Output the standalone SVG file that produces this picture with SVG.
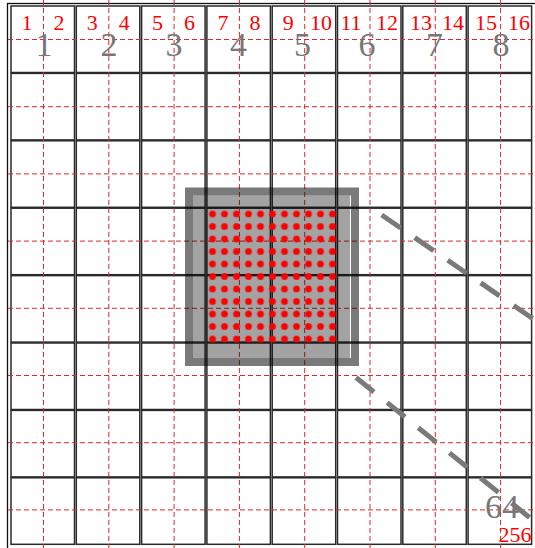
<svg xmlns="http://www.w3.org/2000/svg" width="535" height="548" viewBox="0 0 535 548">
<style>
.cell{fill:none;stroke:#2a2a2a;stroke-width:1.5}
.guide{stroke:#d42a2a;stroke-width:1;stroke-dasharray:5 3;fill:none}
.big{font-family:"Liberation Serif","Times New Roman",serif;font-size:34px;fill:#777;text-anchor:middle}
.idx{font-family:"Liberation Serif","Times New Roman",serif;font-size:22px;fill:#ff0000;text-anchor:middle}
.conn{stroke:#7a7a7a;stroke-width:5;stroke-dasharray:23 17;fill:none}
</style>
<defs>
<pattern id="dots" x="206.5" y="207.75" width="12" height="12.5" patternUnits="userSpaceOnUse">
<circle cx="6" cy="6.25" r="3.4" fill="#ff0000"/>
</pattern>
</defs>
<rect x="0" y="0" width="535" height="548" fill="#fff"/>
<rect x="7.5" y="3.5" width="540" height="560" fill="none" stroke="#111" stroke-width="1.3"/>
<g id="grid">
<g id="row1">
<rect class="cell" x="11" y="6" width="63.5" height="66.5"/><rect class="cell" x="76.3" y="6" width="63.5" height="66.5"/><rect class="cell" x="141.6" y="6" width="63.5" height="66.5"/><rect class="cell" x="206.9" y="6" width="63.5" height="66.5"/><rect class="cell" x="272.2" y="6" width="63.5" height="66.5"/><rect class="cell" x="337.5" y="6" width="63.5" height="66.5"/><rect class="cell" x="402.8" y="6" width="63.5" height="66.5"/><rect class="cell" x="468.1" y="6" width="63.5" height="66.5"/>
</g>
<g id="row2">
<rect class="cell" x="11" y="73.4" width="63.5" height="66.5"/><rect class="cell" x="76.3" y="73.4" width="63.5" height="66.5"/><rect class="cell" x="141.6" y="73.4" width="63.5" height="66.5"/><rect class="cell" x="206.9" y="73.4" width="63.5" height="66.5"/><rect class="cell" x="272.2" y="73.4" width="63.5" height="66.5"/><rect class="cell" x="337.5" y="73.4" width="63.5" height="66.5"/><rect class="cell" x="402.8" y="73.4" width="63.5" height="66.5"/><rect class="cell" x="468.1" y="73.4" width="63.5" height="66.5"/>
</g>
<g id="row3">
<rect class="cell" x="11" y="140.8" width="63.5" height="66.5"/><rect class="cell" x="76.3" y="140.8" width="63.5" height="66.5"/><rect class="cell" x="141.6" y="140.8" width="63.5" height="66.5"/><rect class="cell" x="206.9" y="140.8" width="63.5" height="66.5"/><rect class="cell" x="272.2" y="140.8" width="63.5" height="66.5"/><rect class="cell" x="337.5" y="140.8" width="63.5" height="66.5"/><rect class="cell" x="402.8" y="140.8" width="63.5" height="66.5"/><rect class="cell" x="468.1" y="140.8" width="63.5" height="66.5"/>
</g>
<g id="row4">
<rect class="cell" x="11" y="208.2" width="63.5" height="66.5"/><rect class="cell" x="76.3" y="208.2" width="63.5" height="66.5"/><rect class="cell" x="141.6" y="208.2" width="63.5" height="66.5"/><rect class="cell" x="206.9" y="208.2" width="63.5" height="66.5"/><rect class="cell" x="272.2" y="208.2" width="63.5" height="66.5"/><rect class="cell" x="337.5" y="208.2" width="63.5" height="66.5"/><rect class="cell" x="402.8" y="208.2" width="63.5" height="66.5"/><rect class="cell" x="468.1" y="208.2" width="63.5" height="66.5"/>
</g>
<g id="row5">
<rect class="cell" x="11" y="275.6" width="63.5" height="66.5"/><rect class="cell" x="76.3" y="275.6" width="63.5" height="66.5"/><rect class="cell" x="141.6" y="275.6" width="63.5" height="66.5"/><rect class="cell" x="206.9" y="275.6" width="63.5" height="66.5"/><rect class="cell" x="272.2" y="275.6" width="63.5" height="66.5"/><rect class="cell" x="337.5" y="275.6" width="63.5" height="66.5"/><rect class="cell" x="402.8" y="275.6" width="63.5" height="66.5"/><rect class="cell" x="468.1" y="275.6" width="63.5" height="66.5"/>
</g>
<g id="row6">
<rect class="cell" x="11" y="343" width="63.5" height="66.5"/><rect class="cell" x="76.3" y="343" width="63.5" height="66.5"/><rect class="cell" x="141.6" y="343" width="63.5" height="66.5"/><rect class="cell" x="206.9" y="343" width="63.5" height="66.5"/><rect class="cell" x="272.2" y="343" width="63.5" height="66.5"/><rect class="cell" x="337.5" y="343" width="63.5" height="66.5"/><rect class="cell" x="402.8" y="343" width="63.5" height="66.5"/><rect class="cell" x="468.1" y="343" width="63.5" height="66.5"/>
</g>
<g id="row7">
<rect class="cell" x="11" y="410.4" width="63.5" height="66.5"/><rect class="cell" x="76.3" y="410.4" width="63.5" height="66.5"/><rect class="cell" x="141.6" y="410.4" width="63.5" height="66.5"/><rect class="cell" x="206.9" y="410.4" width="63.5" height="66.5"/><rect class="cell" x="272.2" y="410.4" width="63.5" height="66.5"/><rect class="cell" x="337.5" y="410.4" width="63.5" height="66.5"/><rect class="cell" x="402.8" y="410.4" width="63.5" height="66.5"/><rect class="cell" x="468.1" y="410.4" width="63.5" height="66.5"/>
</g>
<g id="row8">
<rect class="cell" x="11" y="477.8" width="63.5" height="66.5"/><rect class="cell" x="76.3" y="477.8" width="63.5" height="66.5"/><rect class="cell" x="141.6" y="477.8" width="63.5" height="66.5"/><rect class="cell" x="206.9" y="477.8" width="63.5" height="66.5"/><rect class="cell" x="272.2" y="477.8" width="63.5" height="66.5"/><rect class="cell" x="337.5" y="477.8" width="63.5" height="66.5"/><rect class="cell" x="402.8" y="477.8" width="63.5" height="66.5"/><rect class="cell" x="468.1" y="477.8" width="63.5" height="66.5"/>
</g>
</g>
<g id="guides">
<path class="guide" d="M43.5 0V548M108.8 0V548M174.1 0V548M239.4 0V548M304.7 0V548M370 0V548M435.3 0V548M500.6 0V548"/>
<path class="guide" d="M8 39.5H535M8 106.7H535M8 173.9H535M8 241.1H535M8 308.3H535M8 375.5H535M8 442.7H535M8 509.9H535"/>
</g>
<g id="pool-window">
<rect x="193" y="195.5" width="157" height="162.5" fill="#000" fill-opacity="0.36"/>
<rect x="189" y="191.5" width="166" height="170.5" fill="none" stroke="#000" stroke-opacity="0.52" stroke-width="8"/>
<rect x="206.5" y="207.75" width="132" height="137.5" fill="url(#dots)"/>
</g>
<g id="connectors">
<line class="conn" x1="381.7" y1="215" x2="545" y2="327"/>
<line class="conn" x1="356" y1="377.5" x2="545" y2="530"/>
</g>
<g id="labels-cells">
<text class="big" x="44" y="56">1</text>
<text class="big" x="109" y="56">2</text>
<text class="big" x="174" y="56">3</text>
<text class="big" x="238.6" y="56">4</text>
<text class="big" x="302.5" y="56">5</text>
<text class="big" x="367" y="56">6</text>
<text class="big" x="434.5" y="56">7</text>
<text class="big" x="501" y="56">8</text>
<text class="big" x="502" y="518">64</text>
</g>
<g id="labels-index">
<text class="idx" x="27" y="30">1</text><text class="idx" x="59" y="30">2</text>
<text class="idx" x="92.3" y="30">3</text><text class="idx" x="124.3" y="30">4</text>
<text class="idx" x="157.6" y="30">5</text><text class="idx" x="189.6" y="30">6</text>
<text class="idx" x="222.9" y="30">7</text><text class="idx" x="254.9" y="30">8</text>
<text class="idx" x="288.2" y="30">9</text><text class="idx" x="321" y="30">10</text>
<text class="idx" x="351" y="30">11</text><text class="idx" x="387" y="30">12</text>
<text class="idx" x="421" y="30">13</text><text class="idx" x="453" y="30">14</text>
<text class="idx" x="486" y="30">15</text><text class="idx" x="519" y="30">16</text>
<text class="idx" x="515" y="542">256</text>
</g>
</svg>
